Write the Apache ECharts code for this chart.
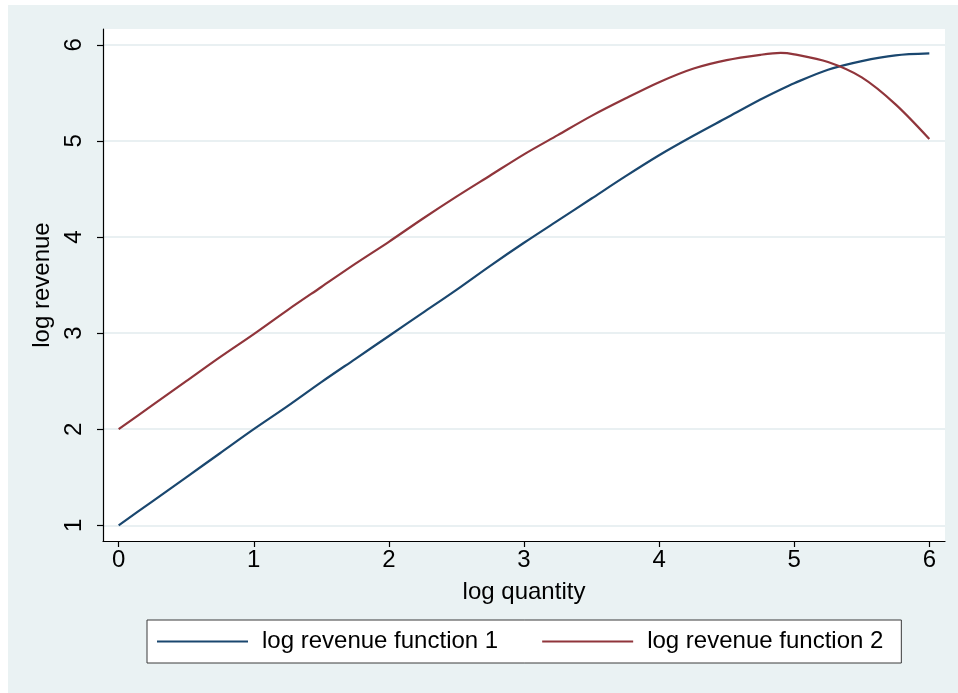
<!DOCTYPE html>
<html>
<head>
<meta charset="utf-8">
<script src="https://cdn.jsdelivr.net/npm/echarts@6/dist/echarts.min.js"></script>
<style>
html,body{margin:0;padding:0;background:#ffffff;width:958px;height:693px;overflow:hidden;}
#c{position:absolute;left:8px;top:5px;width:950px;height:688px;}
</style>
</head>
<body>
<div id="c"></div>
<script>
// log quantity sample points
var xs = [0, 0.25, 0.5, 0.75, 1, 1.25, 1.5, 1.75, 2, 2.25, 2.5, 2.75, 3, 3.25, 3.5, 3.75, 4, 4.25, 4.5, 4.75, 4.9, 5, 5.25, 5.5, 5.75, 6];
// log revenue function 1
var rev1 = [1.00, 1.25, 1.50, 1.75, 2.00, 2.24, 2.49, 2.73, 2.97, 3.21, 3.45, 3.70, 3.94, 4.17, 4.40, 4.63, 4.85, 5.05, 5.24, 5.43, 5.535, 5.60, 5.74, 5.83, 5.89, 5.91];
// log revenue function 2
var rev2 = [2.00, 2.25, 2.50, 2.75, 2.99, 3.24, 3.48, 3.72, 3.95, 4.19, 4.42, 4.64, 4.86, 5.06, 5.26, 5.44, 5.61, 5.75, 5.84, 5.895, 5.915, 5.90, 5.82, 5.66, 5.38, 5.02];
var xTicks = [0, 1, 2, 3, 4, 5, 6];
var yTicks = [1, 2, 3, 4, 5, 6];
var seriesNames = ['log revenue function 1', 'log revenue function 2'];
var xTitle = 'log quantity';
var yTitle = 'log revenue';

var FONT = 'Liberation Sans, Arial, Helvetica, sans-serif';
function pairs(ys){ return xs.map(function(x,i){ return [x, ys[i]]; }); }

var chart = echarts.init(document.getElementById('c'), null, {renderer:'canvas'});
chart.setOption({
  backgroundColor: '#eaf2f3',
  animation: false,
  textStyle: {fontFamily: FONT},
  grid: {left: 95, right: 13, top: 24, bottom: 152, show: true, backgroundColor: '#ffffff', borderWidth: 0, containLabel: false},
  legend: {
    left: 139, top: 615,
    orient: 'horizontal',
    backgroundColor: '#ffffff',
    borderColor: '#3a3a3a', borderWidth: 1,
    padding: [9, 18, 9, 10],
    itemGap: 44,
    itemWidth: 91, itemHeight: 2,
    icon: 'rect',
    textStyle: {fontFamily: FONT, fontSize: 24, color: '#000000', lineHeight: 25, padding: [0, 0, 0, 9]},
    data: seriesNames
  },
  xAxis: {
    type: 'value', min: -0.116, max: 6.116,
    name: xTitle, nameLocation: 'middle', nameGap: 39,
    nameTextStyle: {fontFamily: FONT, fontSize: 24, color: '#000000'},
    axisLine: {show: true, onZero: false, lineStyle: {color: '#000000', width: 1.2}},
    axisTick: {show: true, inside: false, length: 6, customValues: xTicks, lineStyle: {color: '#000000', width: 1.2}},
    axisLabel: {customValues: xTicks, margin: 7, fontFamily: FONT, fontSize: 24, color: '#000000'},
    splitLine: {show: false}
  },
  yAxis: {
    type: 'value', min: 0.837, max: 6.164,
    name: yTitle, nameLocation: 'middle', nameGap: 37, nameRotate: 90,
    nameTextStyle: {fontFamily: FONT, fontSize: 24, color: '#000000'},
    axisLine: {show: true, onZero: false, lineStyle: {color: '#000000', width: 1.2}},
    axisTick: {show: true, inside: false, length: 6, customValues: yTicks, lineStyle: {color: '#000000', width: 1.2}},
    axisLabel: {customValues: yTicks, rotate: 90, margin: 17, fontFamily: FONT, fontSize: 24, color: '#000000'},
    splitLine: {show: true, lineStyle: {color: '#e9f0f2', width: 1.8}}
  },
  series: [
    {name: seriesNames[0], type: 'line', data: pairs(rev1), smooth: 0.3, showSymbol: false, symbol: 'none',
     lineStyle: {color: '#1a476f', width: 2.2}, itemStyle: {color: '#1a476f'}},
    {name: seriesNames[1], type: 'line', data: pairs(rev2), smooth: 0.3, showSymbol: false, symbol: 'none',
     lineStyle: {color: '#90353b', width: 2.2}, itemStyle: {color: '#90353b'}}
  ]
});
</script>
</body>
</html>
